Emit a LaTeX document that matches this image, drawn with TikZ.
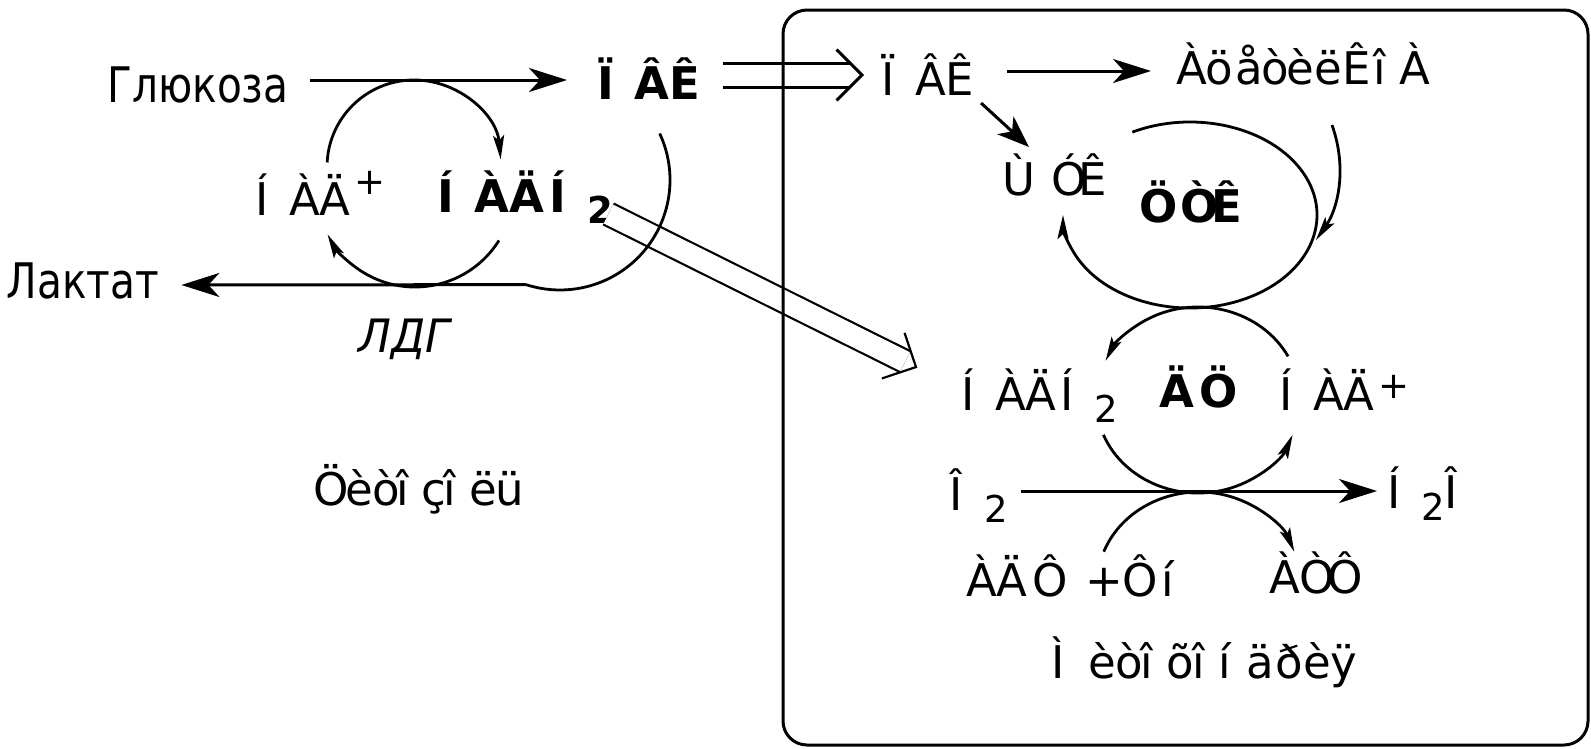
\documentclass[tikz,border=0pt]{standalone}
\usepackage{fontspec}
\setmainfont{DejaVu Sans}
\newfontfamily\cyr{DejaVu Sans}[FakeStretch=0.83]
\newfontfamily\cyri{DejaVu Sans}[FakeStretch=0.95]
\usetikzlibrary{arrows.meta,calc}
\newlength\mjw
\newcommand\mjf{1}
\newcommand\m[2]{\settowidth\mjw{#2}\makebox[\mjf\mjw][l]{#1}}
\newcommand\lsub[2][12pt]{\raisebox{-#1}{\fontsize{37}{37}\selectfont #2}}
\newcommand\lsup[2][12pt]{\raisebox{#1}{\fontsize{37}{37}\selectfont #2}}
\tikzset{
  lab/.style={inner sep=0pt, anchor=base west, font=\fontsize{45}{50}\selectfont},
  blab/.style={lab, font=\fontsize{45}{50}\selectfont\bfseries},
  clab/.style={inner sep=0pt, anchor=base, font=\cyr\fontsize{49}{55}\selectfont},
  arr/.style={line width=3pt, -{Stealth[length=38pt,width=24pt,inset=11pt]}},
  cyc/.style={line width=2.8pt, -{Stealth[length=24pt,width=11pt,inset=5pt]}},
  plainln/.style={line width=2.8pt},
  dblshaft/.style={line width=#1, double=white, double distance=21pt, shorten >=12pt},
}
\begin{document}
\begin{tikzpicture}[x=1pt,y=-1pt]
\fill[white] (0,0) rectangle (1591,748);
\useasboundingbox (0,0) rectangle (1591,748);

% ---------- labels, cytosol ----------
\node[clab] (glu) at (198,102) {Глюкоза};
\node[clab] (lak) at (83,298) {Лактат};
\node[clab, font=\cyri\itshape\fontsize{46}{50}\selectfont] (ldg) at (404,352) {ЛДГ};
\node[blab] (pvk1) at (597,99) {\m{Ï}{П}\m{Â}{В}\m{Ê}{К}};
\node[lab] (nad1) at (255,215) {\m{Í}{Н}\m{À}{А}\m{Ä}{Д}\lsup[21pt]{+}};
\node[blab] (nadh1) at (437,212) {\m{Í}{Н}\m{À}{А}\m{Ä}{Д}\m{Í}{Н}\lsub[11pt]{2}};
\node[lab] (cyt) at (313,505) {\renewcommand\mjf{0.92}\m{Ö}{Ц}\m{è}{и}\m{ò}{т}\m{î}{о}\m{ç}{з}\m{î}{о}\m{ë}{л}\m{ü}{ь}};

% ---------- labels, mitochondrion ----------
\node[lab] (pvk2) at (881,95) {\m{Ï}{П}\m{Â}{В}\m{Ê}{К}};
\node[lab] (acoa) at (1176,84) {\renewcommand\mjf{0.96}\m{À}{А}\m{ö}{ц}\m{å}{е}\m{ò}{т}\m{è}{и}\m{ë}{л}\m{Ê}{К}\m{î}{о}\m{À}{А}};
\node[lab] (shuk) at (1002,195) {\m{Ù}{Щ}\m{Ó}{У}\m{Ê}{К}};
\node[blab] (tsk) at (1139,222) {\m{Ö}{Ц}\m{Ò}{Т}\m{Ê}{К}};
\node[lab] (nadh2) at (961,410) {\m{Í}{Н}\m{À}{А}\m{Ä}{Д}\m{Í}{Н}\lsub{2}};
\node[blab] (dc) at (1159,407) {\m{Ä}{Д}\m{Ö}{Ц}};
\node[lab] (nad2) at (1279,410) {\m{Í}{Н}\m{À}{А}\m{Ä}{Д}\lsup[12pt]{+}};
\node[lab] (o2) at (949,510) {\m{Î}{О}\lsub{2}};
\node[lab] (h2o) at (1387,508) {\m{Í}{Н}\lsub{2}\m{Î}{О}};
\node[lab] (adf) at (966,596) {\m{À}{А}\m{Ä}{Д}\m{Ô}{Ф} +\m{Ô}{Ф}\m{í}{н}};
\node[lab] (atf) at (1269,593) {\m{À}{А}\m{Ò}{Т}\m{Ô}{Ф}};
\node[lab] (mito) at (1051,678) {\renewcommand\mjf{0.95}\m{Ì}{М}\m{è}{и}\m{ò}{т}\m{î}{о}\m{õ}{х}\m{î}{о}\m{í}{н}\m{ä}{д}\m{ð}{р}\m{è}{и}\m{ÿ}{я}};

% ---------- double arrows (drawn under the box) ----------
\coordinate (d1s) at ([shift={(17,-24)}]pvk1.base east);
\coordinate (d1t) at ([shift={(-19,-20)}]pvk2.base west);
\draw[dblshaft=3pt] (d1s) -- (d1t);
\draw[line width=3pt, line join=miter] ($(d1t)!36pt!45:(d1s)$) -- (d1t) -- ($(d1t)!36pt!-45:(d1s)$);
\coordinate (d2s) at ([shift={(-5,2)}]nadh1.base east);
\coordinate (d2t) at ([shift={(-45,-43)}]nadh2.base west);
\draw[dblshaft=2.2pt] (d2s) -- (d2t);
\draw[line width=2.2pt, line join=miter] ($(d2t)!36pt!45:(d2s)$) -- (d2t) -- ($(d2t)!36pt!-45:(d2s)$);

% ---------- mitochondrion box ----------
\draw[line width=3pt, rounded corners=24pt] (783,10) rectangle (1588,745);

% ---------- cytosol arrows and cycle ----------
\draw[arr] ([shift={(21,-22)}]glu.base east) -- ([shift={(-30,-19)}]pvk1.base west);
\draw[cyc] (414,167) ++(183:87) arc[start angle=183, end angle=355, radius=87];
\draw[cyc] (415,188) ++(32:99) arc[start angle=32, end angle=152, radius=99];
\draw[plainln] (560,180) ++(335:110) arc[start angle=335, end angle=468, radius=110] coordinate (lk);
\draw[arr] (lk) -- ([shift={(22,-13)}]lak.base east);

% ---------- mitochondrion arrows and cycles ----------
\draw[arr] ([shift={(29,-24)}]pvk2.base east) -- ([shift={(-25,-13)}]acoa.base west);
\draw[line width=3pt, -{Stealth[length=32pt,width=24pt,inset=9pt]}] ([shift={(3,8)}]pvk2.base east) -- ([shift={(27,-48)}]shuk.base west);
\draw[cyc] (1190,215) ++(-117:127 and 93) arc[start angle=-117, end angle=180, x radius=127, y radius=93];
\draw[cyc] ([shift={(156,41)}]acoa.base west) .. controls (1348,170) and (1337,210) .. (1316,240);
\draw[cyc] (1198,400) ++(-28:102 and 93) arc[start angle=-28, end angle=-155, x radius=102, y radius=93];
\draw[cyc] (1198,400) ++(158:102 and 93) arc[start angle=158, end angle=22, x radius=102, y radius=93];
\draw[cyc] (1199,585) ++(201:102 and 93) arc[start angle=201, end angle=339, x radius=102, y radius=93];
\draw[arr] ([shift={(13,-19)}]o2.base east) -- ([shift={(-10,-17)}]h2o.base west);
\end{tikzpicture}
\end{document}
